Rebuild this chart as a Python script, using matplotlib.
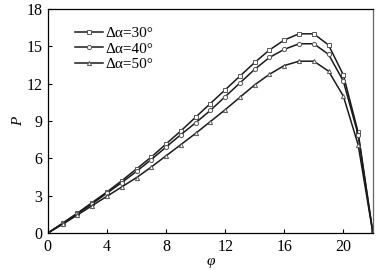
import matplotlib
matplotlib.use("Agg")
import matplotlib.pyplot as plt
import numpy as np

phi = list(range(0, 23))
p30 = [0, 0.8, 1.6, 2.45, 3.3, 4.2, 5.15, 6.1, 7.15, 8.2, 9.3, 10.4, 11.5, 12.6,
       13.7, 14.7, 15.5, 16.0, 16.0, 15.1, 12.7, 8.1, 0]
p40 = [0, 0.75, 1.55, 2.35, 3.2, 4.05, 4.95, 5.9, 6.9, 7.9, 8.85, 9.85, 10.95, 12.05,
       13.15, 14.1, 14.75, 15.2, 15.2, 14.35, 12.2, 7.9, 0]
p50 = [0, 0.7, 1.45, 2.2, 2.95, 3.7, 4.45, 5.3, 6.2, 7.1, 8.0, 8.95, 9.9, 10.9,
       11.9, 12.75, 13.45, 13.8, 13.8, 13.0, 11.0, 7.1, 0]
labels = ["Δα=30°", "Δα=40°", "Δα=50°"]
xticks = [0, 4, 8, 12, 16, 20]
yticks = [0, 3, 6, 9, 12, 15, 18]

plt.rcParams['font.family'] = ['Liberation Serif', 'DejaVu Serif']
fig = plt.figure(figsize=(3.86, 2.70), dpi=100)
ax = fig.add_axes([0.124, 0.137, 0.842, 0.830])

markers = ['s', 'o', '^']
for ys, lab, m in zip([p30, p40, p50], labels, markers):
    ax.plot(phi, ys, color='#1a1a1a', lw=1.1, marker=m, ms=3.0,
            mfc='white', mec='#555555', mew=0.7, label=lab)

ax.set_xlim(0, 22)
ax.set_ylim(0, 18)
ax.set_xticks(xticks)
ax.set_yticks(yticks)
ax.tick_params(direction='in', length=3, width=0.8, labelsize=11.5, pad=4)
ax.set_xlabel('φ', fontstyle='italic', fontsize=11, labelpad=0)
ax.set_ylabel('P', fontstyle='italic', fontsize=11, labelpad=1)
for s in ax.spines.values():
    s.set_linewidth(0.9)
ax.spines['right'].set_color('#666666')

ax.legend(loc='upper left', bbox_to_anchor=(0.083, 0.922), frameon=False,
          fontsize=11, handlelength=1.85, handletextpad=0.15, labelspacing=0.12,
          borderaxespad=0, borderpad=0)

fig.savefig('out.png', dpi=100)
